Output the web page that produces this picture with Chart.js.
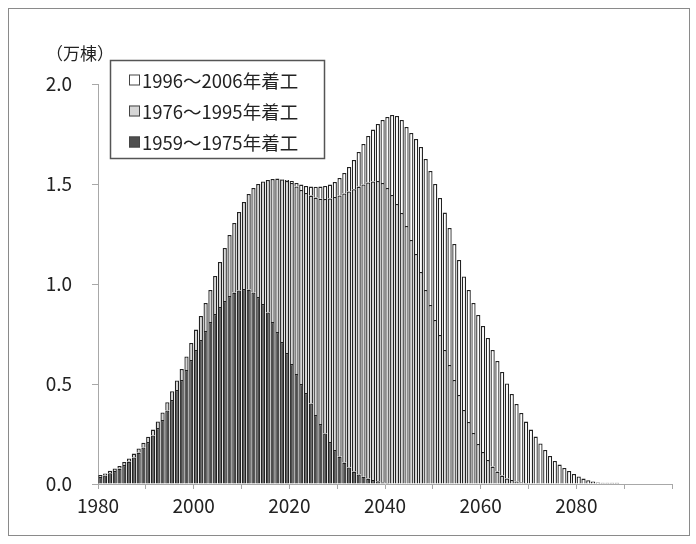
<!DOCTYPE html>
<html>
<head>
<meta charset="utf-8">
<script src="https://cdn.jsdelivr.net/npm/chart.js@4.4.1/dist/chart.umd.min.js"></script>
<style>
  html, body { margin: 0; padding: 0; background: #fff; }
  #wrap { width: 696px; height: 544px; }
</style>
</head>
<body>
<div id="wrap"><canvas id="myChart" width="696" height="544"></canvas></div>
<script>
const years = [
    1980, 1981, 1982, 1983, 1984, 1985, 1986, 1987, 1988, 1989,
    1990, 1991, 1992, 1993, 1994, 1995, 1996, 1997, 1998, 1999,
    2000, 2001, 2002, 2003, 2004, 2005, 2006, 2007, 2008, 2009,
    2010, 2011, 2012, 2013, 2014, 2015, 2016, 2017, 2018, 2019,
    2020, 2021, 2022, 2023, 2024, 2025, 2026, 2027, 2028, 2029,
    2030, 2031, 2032, 2033, 2034, 2035, 2036, 2037, 2038, 2039,
    2040, 2041, 2042, 2043, 2044, 2045, 2046, 2047, 2048, 2049,
    2050, 2051, 2052, 2053, 2054, 2055, 2056, 2057, 2058, 2059,
    2060, 2061, 2062, 2063, 2064, 2065, 2066, 2067, 2068, 2069,
    2070, 2071, 2072, 2073, 2074, 2075, 2076, 2077, 2078, 2079,
    2080, 2081, 2082, 2083, 2084, 2085, 2086, 2087, 2088
];

// 1959～1975年着工 (万棟)
const built1959 = [
    0.035, 0.043, 0.054, 0.065, 0.077, 0.095, 0.112, 0.133, 0.157, 0.183,
    0.21, 0.243, 0.28, 0.32, 0.368, 0.42, 0.47, 0.52, 0.57, 0.62,
    0.67, 0.72, 0.765, 0.81, 0.85, 0.885, 0.915, 0.94, 0.957, 0.968,
    0.975, 0.972, 0.958, 0.935, 0.9, 0.858, 0.81, 0.76, 0.71, 0.655,
    0.6, 0.55, 0.5, 0.455, 0.403, 0.345, 0.3, 0.253, 0.21, 0.17,
    0.137, 0.107, 0.083, 0.062, 0.048, 0.036, 0.027, 0.02, 0.014, 0.009,
    0.005, 0.003, 0, 0, 0, 0, 0, 0, 0, 0,
    0, 0, 0, 0, 0, 0, 0, 0, 0, 0,
    0, 0, 0, 0, 0, 0, 0, 0, 0, 0,
    0, 0, 0, 0, 0, 0, 0, 0, 0, 0,
    0, 0, 0, 0, 0, 0, 0, 0, 0
];

// 1976～1995年着工
const built1976 = [
    0.010, 0.010, 0.012, 0.013, 0.013, 0.015, 0.016, 0.019, 0.021, 0.023,
    0.026, 0.029, 0.033, 0.038, 0.041, 0.044, 0.048, 0.055, 0.068, 0.085,
    0.102, 0.12, 0.14, 0.16, 0.19, 0.225, 0.265, 0.305, 0.348, 0.392,
    0.435, 0.478, 0.522, 0.565, 0.613, 0.662, 0.715, 0.767, 0.813, 0.86,
    0.905, 0.938, 0.97, 1.0, 1.039, 1.087, 1.126, 1.172, 1.218, 1.265,
    1.306, 1.346, 1.38, 1.412, 1.439, 1.462, 1.481, 1.493, 1.501, 1.496,
    1.475, 1.442, 1.40, 1.355, 1.29, 1.22, 1.15, 1.06, 0.97, 0.895,
    0.82, 0.745, 0.67, 0.595, 0.52, 0.445, 0.37, 0.31, 0.255, 0.2,
    0.16, 0.12, 0.087, 0.062, 0.042, 0.028, 0.02, 0.013, 0.009, 0.005,
    0, 0, 0, 0, 0, 0, 0, 0, 0, 0,
    0, 0, 0, 0, 0, 0, 0, 0, 0
];

// 1996～2006年着工
const built1996 = [
    0, 0, 0, 0, 0, 0, 0, 0, 0, 0,
    0, 0, 0, 0, 0, 0, 0, 0, 0, 0,
    0, 0, 0, 0, 0, 0, 0, 0, 0, 0,
    0, 0, 0, 0, 0, 0, 0, 0, 0.002, 0.005,
    0.01, 0.017, 0.027, 0.035, 0.045, 0.054, 0.061, 0.065, 0.069, 0.075,
    0.087, 0.102, 0.122, 0.146, 0.173, 0.202, 0.232, 0.259, 0.285, 0.315,
    0.355, 0.40, 0.44, 0.465, 0.495, 0.535, 0.575, 0.625, 0.655, 0.67,
    0.68, 0.685, 0.687, 0.685, 0.68, 0.675, 0.668, 0.66, 0.65, 0.645,
    0.63, 0.61, 0.583, 0.553, 0.518, 0.475, 0.43, 0.387, 0.346, 0.307,
    0.272, 0.237, 0.203, 0.17, 0.14, 0.115, 0.097, 0.08, 0.065, 0.05,
    0.038, 0.027, 0.019, 0.013, 0.008, 0.006, 0.006, 0.006, 0.006
];

const seriesLabels = ['1959～1975年着工', '1976～1995年着工', '1996～2006年着工'];
const xTickLabels = [1980, 2000, 2020, 2040, 2060, 2080];
const yTickLabels = ['0.0', '0.5', '1.0', '1.5', '2.0'];
const unitLabel = '（万棟）';

const FONT = "'Noto Sans CJK JP', 'Noto Sans', sans-serif";

function toPoints(values) {
    // bar for year Y sits between ticks Y and Y+1
    return values.map((v, i) => ({ x: years[i] + 0.5, y: v }));
}

const frameAndLegend = {
    id: 'frameAndLegend',
    afterDraw(chart) {
        const ctx = chart.ctx;
        ctx.save();
        // outer frame
        ctx.strokeStyle = '#8a8a8a';
        ctx.lineWidth = 1;
        ctx.strokeRect(8.5, 8.5, 681, 527);

        // unit
        ctx.fillStyle = '#222';
        ctx.font = '17px ' + FONT;
        ctx.textBaseline = 'middle';
        ctx.textAlign = 'left';
        ctx.fillText(unitLabel, 46, 54);

        // legend box
        ctx.fillStyle = '#fff';
        ctx.fillRect(110.5, 60.5, 214, 98);
        ctx.strokeStyle = '#555';
        ctx.lineWidth = 1.5;
        ctx.strokeRect(110.5, 60.5, 214, 98);

        const rows = [80, 111, 142];
        const sets = chart.data.datasets.slice().reverse();
        ctx.font = '18.5px ' + FONT;
        sets.forEach((ds, i) => {
            const y = rows[i];
            ctx.fillStyle = ds.backgroundColor;
            ctx.fillRect(129, y - 5.5, 11, 11);
            ctx.strokeStyle = '#444';
            ctx.lineWidth = 1;
            ctx.strokeRect(129.5, y - 5, 10, 10);
            ctx.fillStyle = '#222';
            ctx.fillText(ds.label, 142, y + 1);
        });
        ctx.restore();
    }
};

const ctx = document.getElementById('myChart').getContext('2d');
new Chart(ctx, {
    type: 'bar',
    data: {
        datasets: [
            {
                label: seriesLabels[0],
                data: toPoints(built1959),
                backgroundColor: '#4e4e4e',
                borderColor: '#222',
                borderWidth: 1.3
            },
            {
                label: seriesLabels[1],
                data: toPoints(built1976),
                backgroundColor: '#d6d6d6',
                borderColor: '#222',
                borderWidth: 1.3
            },
            {
                label: seriesLabels[2],
                data: toPoints(built1996),
                backgroundColor: '#ffffff',
                borderColor: '#222',
                borderWidth: 1.3
            }
        ]
    },
    options: {
        responsive: false,
        animation: false,
        barPercentage: 0.88,
        categoryPercentage: 1,
        layout: { padding: { top: 84, right: 24, bottom: 0, left: 0 } },
        plugins: {
            legend: { display: false },
            tooltip: { enabled: false }
        },
        scales: {
            x: {
                type: 'linear',
                stacked: true,
                offset: false,
                min: 1980,
                max: 2100,
                afterFit: function(scale) { scale.height = 60; },
                grid: {
                    offset: false,
                    drawOnChartArea: false,
                    drawTicks: true,
                    tickLength: 5,
                    color: '#a8a8a8'
                },
                border: { color: '#a8a8a8' },
                ticks: {
                    stepSize: 10,
                    autoSkip: false,
                    maxRotation: 0,
                    padding: 5,
                    color: '#222',
                    font: { family: FONT, size: 19 },
                    callback: function(value) {
                        return xTickLabels.includes(value) ? String(value) : '';
                    }
                }
            },
            y: {
                stacked: true,
                min: 0,
                max: 2,
                afterFit: function(scale) { scale.width = 98; },
                grid: {
                    drawOnChartArea: false,
                    drawTicks: true,
                    tickLength: 6,
                    color: '#a8a8a8'
                },
                border: { color: '#a8a8a8' },
                ticks: {
                    stepSize: 0.5,
                    padding: 20,
                    color: '#222',
                    font: { family: FONT, size: 19 },
                    callback: function(value, index) {
                        return yTickLabels[index];
                    }
                }
            }
        }
    },
    plugins: [frameAndLegend]
});
</script>
</body>
</html>
